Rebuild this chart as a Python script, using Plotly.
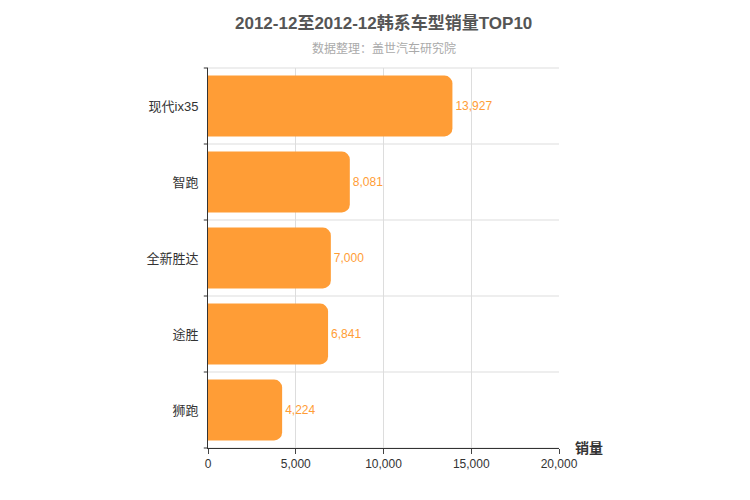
import plotly.graph_objects as go

categories = ["现代ix35", "智跑", "全新胜达", "途胜", "狮跑"]
values = [13927, 8081, 7000, 6841, 4224]
xticks = [0, 5000, 10000, 15000, 20000]

cats = categories[::-1]
vals = values[::-1]

fig = go.Figure(go.Bar(
    x=vals, y=cats, orientation="h",
    marker=dict(color="#FF9D36", line=dict(width=0)),
    width=0.8,
    text=[f"{v:,}" for v in vals], textposition="outside",
    textfont=dict(color="#FF9D36", size=12, family="Liberation Sans, Arial"),
    cliponaxis=False,
))
shapes = []
for i in range(6):
    shapes.append(dict(type="line", xref="x domain", yref="y domain", x0=0, x1=1,
                       y0=i/5, y1=i/5, line=dict(color="#dddddd", width=1), layer="below"))
    shapes.append(dict(type="line", xref="x domain", yref="y domain", x0=-0.012, x1=0,
                       y0=i/5, y1=i/5, line=dict(color="#333", width=1)))
fig.update_layout(
    width=750, height=500, barcornerradius=8,
    plot_bgcolor="white", paper_bgcolor="white",
    margin=dict(l=200, r=199, t=60, b=60, autoexpand=False),
    font=dict(family="Liberation Sans, Noto Sans CJK SC, sans-serif", color="#333"),
    xaxis=dict(range=[0, 20000], tickvals=xticks, tickformat=",", showgrid=True, gridcolor="#dddddd",
               showline=True, linecolor="#333", ticks="outside", ticklen=5, zeroline=False,
               tickfont=dict(size=12), automargin=False),
    yaxis=dict(showgrid=False, showline=True, linecolor="#333", ticks="", tickfont=dict(size=13),
               ticklabelstandoff=6, automargin=False),
    shapes=shapes,
    showlegend=False,
    annotations=[
        dict(text="<b>2012-12至2012-12韩系车型销量TOP10</b>", xref="paper", yref="paper",
             x=0.5, y=1 + 45/380, xanchor="center", yanchor="middle", showarrow=False,
             font=dict(size=17, color="#555")),
        dict(text="数据整理：盖世汽车研究院", xref="paper", yref="paper",
             x=0.5, y=1 + 20/380, xanchor="center", yanchor="middle", showarrow=False,
             font=dict(size=12, color="#aaa")),
        dict(text="<b>销量</b>", xref="paper", yref="paper", x=1.04, y=0, xanchor="left",
             yanchor="middle", showarrow=False, font=dict(size=14, color="#333")),
    ],
)
fig.write_html("out.html")
